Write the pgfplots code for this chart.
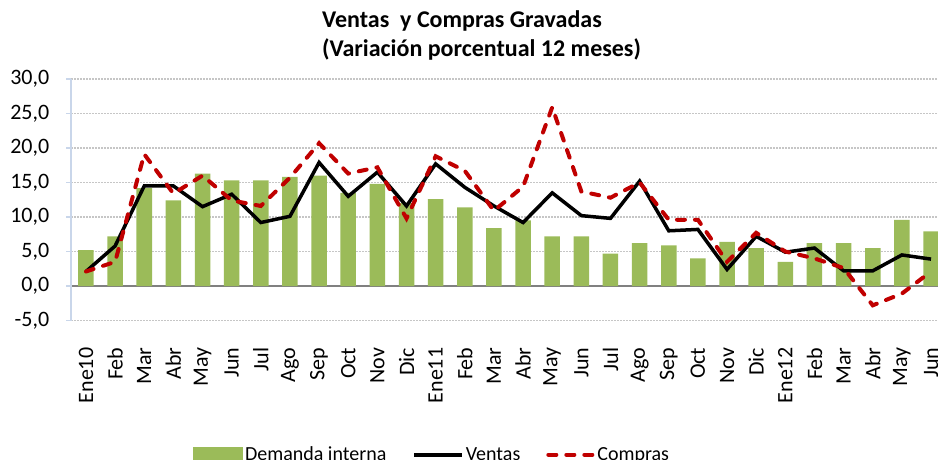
\documentclass[border=0pt]{standalone}
\usepackage{fontspec}
\setmainfont{Carlito}
\usepackage{pgfplots}
\pgfplotsset{compat=1.18}
\usepackage{pgfplotstable}

\definecolor{barg}{HTML}{9BBB59}
\definecolor{redd}{HTML}{C00000}
\definecolor{axblue}{HTML}{C9D6EA}

\pgfplotsset{
  linelegend/.style={legend image code/.code={\draw[##1] (0pt,0pt) -- (#1,0pt);}},
  barlegend/.style={legend image code/.code={\fill[barg] (0pt,-6pt) rectangle (50pt,8pt);}},
}

% x dem=Demanda interna, ven=Ventas, com=Compras
\pgfplotstableread{
x dem ven com
0 5.2 2.1 2.1
1 7.2 5.8 3.5
2 14.2 14.5 19.1
3 12.4 14.5 13.4
4 16.3 11.5 16.0
5 15.3 13.3 12.4
6 15.3 9.2 11.6
7 15.8 10.1 15.7
8 16.0 17.9 20.7
9 13.5 13.0 16.3
10 14.8 16.5 17.2
11 12.0 11.6 9.8
12 12.6 17.7 18.8
13 11.4 14.3 16.7
14 8.4 11.6 10.9
15 9.5 9.2 14.4
16 7.2 13.5 25.9
17 7.2 10.2 13.7
18 4.7 9.8 12.8
19 6.2 15.2 15.0
20 5.9 8.0 9.6
21 4.0 8.2 9.6
22 6.4 2.4 3.5
23 5.5 7.2 7.7
24 3.5 4.9 5.0
25 6.2 5.5 4.0
26 6.2 2.2 2.6
27 5.5 2.2 -2.8
28 9.6 4.5 -1.1
29 7.9 3.9 2.1
}\datos

\begin{document}
\begin{tikzpicture}
\begin{axis}[
  name=ax,
  at={(71.4pt,138.5pt)}, anchor=south west,
  scale only axis, width=867.5pt, height=241.5pt,
  xmin=-0.5, xmax=29.27, ymin=-5, ymax=30,
  ytick distance=5,
  xtick={0,...,29},
  xticklabels={Ene10,Feb,Mar,Abr,May,Jun,Jul,Ago,Sep,Oct,Nov,Dic,Ene11,Feb,Mar,Abr,May,Jun,Jul,Ago,Sep,Oct,Nov,Dic,Ene12,Feb,Mar,Abr,May,Jun},
  axis line style={draw=none},
  tick align=outside, ytick pos=left, xtick pos=bottom,
  x tick style={draw=none},
  y tick style={draw=axblue, line width=1.5pt},
  major tick length=5pt,
  ymajorgrids,
  major grid style={gray!45, line width=1.2pt, dash pattern=on 1.2pt off 1.8pt},
  ticklabel style={font=\fontsize{22}{26}\selectfont},
  xticklabel style={rotate=90, anchor=east, inner sep=0pt},
  xticklabel shift=22pt,
  yticklabel style={anchor=east, inner sep=0pt},
  yticklabel shift=17pt,
  /pgf/number format/.cd, fixed, fixed zerofill, precision=1, use comma, assume math mode=true,
  /pgfplots/.cd,
  legend style={at={(0.4157,-0.556)}, anchor=center, draw=none, fill=none,
    font=\fontsize{20}{22}\selectfont,
    /tikz/every even column/.append style={column sep=24pt}},
  legend columns=3,
]
\draw[gray, line width=1.5pt] (axis cs:-0.5,0) -- (axis cs:29.27,0);
\addplot[ybar, bar width=15.5pt, bar shift=0pt, fill=barg, draw=none, barlegend]
  table[x=x, y=dem] {\datos};
\addplot[black, line width=3.5pt, no markers, linelegend=48pt]
  table[x=x, y=ven] {\datos};
\addplot[redd, line width=4pt, line cap=round, dash pattern=on 8pt off 10pt, no markers, linelegend=45pt]
  table[x=x, y=com] {\datos};
\legend{Demanda interna, Ventas, Compras}
\end{axis}
\draw[axblue, line width=2pt] (ax.south west) -- (ax.north west);
\node[anchor=base west, inner sep=0pt, font=\bfseries\fontsize{24}{28}\selectfont] at (322pt,431pt) {Ventas\ \ y Compras Gravadas};
\node[anchor=base west, inner sep=0pt, font=\bfseries\fontsize{24}{28}\selectfont] at (322pt,402pt) {(Variación porcentual 12 meses)};
\pgfresetboundingbox
\path (0pt,0pt) rectangle (938pt,459pt);
\end{tikzpicture}
\end{document}
